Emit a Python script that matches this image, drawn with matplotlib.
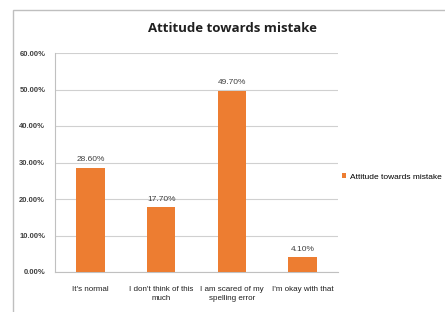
import matplotlib.pyplot as plt
from matplotlib.patches import Rectangle

categories = ["It's normal", "I don't think of this\nmuch", "I am scared of my\nspelling error", "I'm okay with that"]
values = [28.6, 17.7, 49.7, 4.1]
yticks = [0, 10, 20, 30, 40, 50, 60]
series_name = "Attitude towards mistake"

plt.rcParams['font.family'] = ['Open Sans', 'DejaVu Sans']
W, H = 445, 312
fig = plt.figure(figsize=(W / 100, H / 100), dpi=100)
small = "Liberation Sans"

# outer chart border
fig.patches.append(Rectangle((13 / W, -0.1), 1.2, 1 - 10 / H + 0.1, transform=fig.transFigure,
                             fill=False, edgecolor="#bfbfbf", linewidth=1.0))

ax = fig.add_axes([55 / W, 1 - 272 / H, (338 - 55) / W, (272 - 53) / H])
x = range(len(categories))
ax.bar(x, values, width=0.4, color="#ED7D31", label=series_name, zorder=3)
for xi, v in zip(x, values):
    ax.text(xi, v + 1.2, f"{v:.2f}%", ha="center", va="bottom", fontsize=6, color="#404040",
            family=small)

ax.set_xlim(-0.5, len(categories) - 0.5)
ax.set_ylim(0, 60)
ax.set_yticks(yticks)
ax.set_yticklabels([f"{t:.2f}%" for t in yticks], fontsize=5.5, color="#404040", fontweight="bold",
                   family=small)
ax.set_xticks(list(x))
ax.set_xticklabels(categories, fontsize=5.8, color="#202020", family=small, linespacing=1.35)
ax.tick_params(axis="both", length=0, pad=7)
ax.tick_params(axis="x", pad=10)
ax.grid(axis="y", color="#d0d0d0", linewidth=0.8, zorder=0)
for s in ["top", "right"]:
    ax.spines[s].set_visible(False)
for s in ["left", "bottom"]:
    ax.spines[s].set_color("#c0c0c0")

fig.text(232 / W, 1 - 29 / H, "Attitude towards mistake", ha="center", va="center",
         fontsize=9.5, fontweight="bold", color="#202020", family="Open Sans")

ax.legend(loc="center left", bbox_to_anchor=(342 / W, 1 - 177 / H), bbox_transform=fig.transFigure,
          frameon=False, prop={"family": small, "size": 6}, handlelength=0.5, handleheight=0.5,
          handletextpad=0.4, borderpad=0, borderaxespad=0)

fig.savefig("out.png", dpi=100, facecolor="white")
